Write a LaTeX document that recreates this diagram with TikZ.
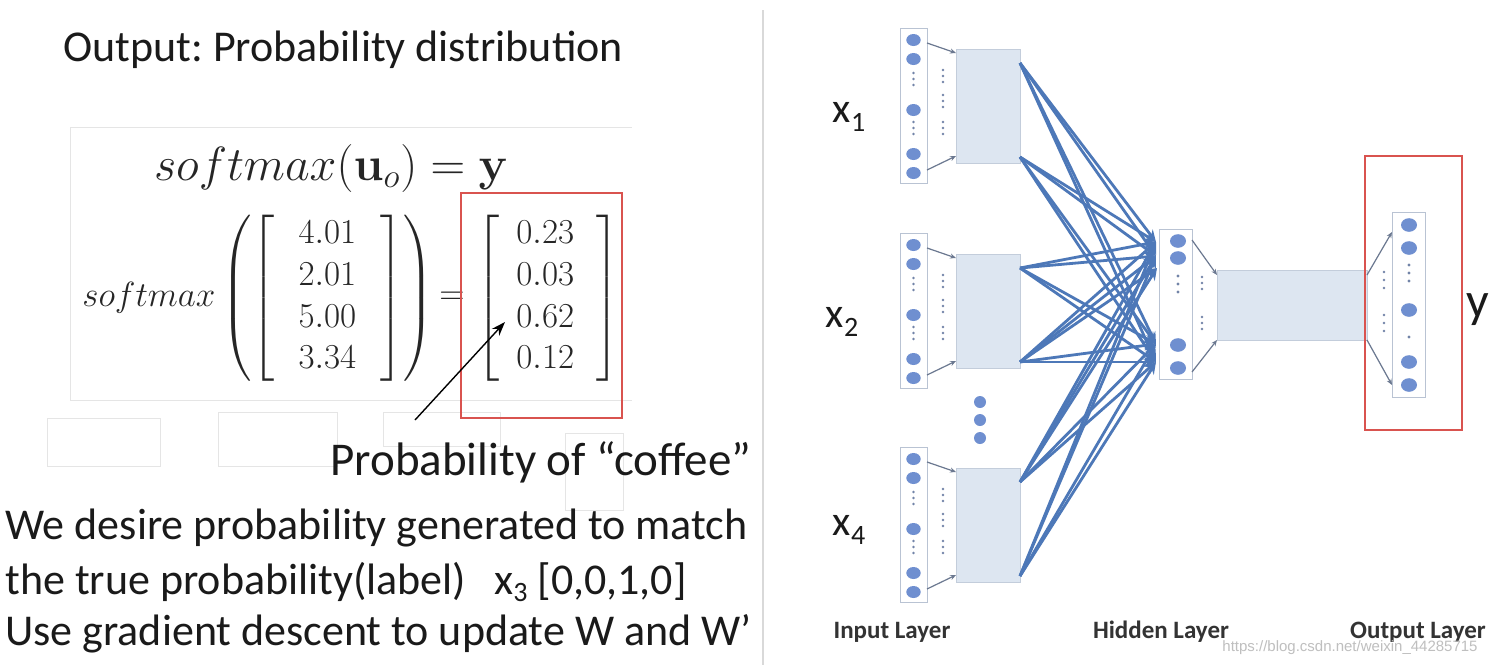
\RequirePackage{fix-cm}
\documentclass[tikz,border=0pt]{standalone}
\usepackage{amsmath}
\usepackage[no-math]{fontspec}
\newfontfamily\calfont{Carlito}
\newfontfamily\wmfont{Liberation Sans}
\usetikzlibrary{arrows.meta}
\frenchspacing
\definecolor{txt}{HTML}{1A1A1A}
\definecolor{mathc}{HTML}{262626}
\definecolor{redb}{HTML}{D9534F}
\definecolor{conncol}{HTML}{4D78B8}
\definecolor{neur}{HTML}{6F8FD0}
\definecolor{hfill}{HTML}{DDE6F1}
\definecolor{hdraw}{HTML}{C3CDDB}
\definecolor{ndraw}{HTML}{B9C3D3}
\definecolor{dotc}{HTML}{7284A8}
\definecolor{fanc}{HTML}{6B7890}
\tikzset{
  bigtext/.style={font=\calfont\fontsize{22}{26}\selectfont, text=txt, inner sep=0pt},
  narrow/.style={draw=ndraw, fill=white, line width=0.6pt, inner sep=0pt},
  hbox/.style={draw=hdraw, fill=hfill, line width=0.6pt, inner sep=0pt},
  neuron/.style={fill=neur},
  dotf/.style={fill=dotc},
  fan/.style={draw=fanc, line width=0.6pt, -{Stealth[length=3pt,width=2.5pt]}},
  link/.style={draw=conncol, line width=1.4pt, -{Stealth[length=6pt,width=5pt]}},
  redbox/.style={draw=redb, line width=1pt},
  faint/.style={draw=black!10, line width=0.5pt},
  layerlbl/.style={font=\calfont\bfseries\fontsize{12.5}{14}\selectfont, text=black!80, inner sep=0pt},
  xlbl/.style={font=\calfont\fontsize{21}{24}\selectfont, text=txt, inner sep=0pt}
}
\begin{document}
\begin{tikzpicture}[x=0.5pt,y=-0.5pt]
\useasboundingbox (0,0) rectangle (1500,665);
\fill[white] (0,0) rectangle (1500,665);
% ---------- left panel ----------
\node[bigtext, anchor=west] (title) at (63,50) {Output: Probability distribution};
\draw[faint] (70,400) -- (70,127) -- (632,127);
\draw[faint] (70,400) -- (632,400);
\draw[faint] (47,418) rectangle (160,466);
\draw[faint] (218,412) rectangle (337,466);
\draw[faint] (383,412) rectangle (500,446);
\draw[faint] (565,433) rectangle (623,510);
\node[text=mathc, inner sep=0pt, font=\fontsize{24}{28}\selectfont] (eq) at (331,168) {$softmax(\mathbf{u}_o)=\mathbf{y}$};
\node[text=mathc, inner sep=0pt, anchor=west, font=\fontsize{17.5}{20.8}\selectfont] (lhs) at (82,298)
 {$softmax\left(\left[\begin{array}{@{\hspace{12pt}}c@{\hspace{12pt}}}4.01\\2.01\\5.00\\3.34\end{array}\right]\right)$};
\node[text=mathc, inner sep=0pt, font=\fontsize{17.5}{20.8}\selectfont] (eqs) at (452,298) {$=$};
\node[text=mathc, inner sep=0pt, anchor=west, font=\fontsize{17.5}{20.8}\selectfont] (rhs) at (476,298)
 {$\left[\begin{array}{@{\hspace{8.5pt}}c@{\hspace{11pt}}}0.23\\0.03\\0.62\\0.12\end{array}\right]$};
\draw[redbox] (461,193) rectangle (622,418);
\coordinate (arrS) at (415,420);
\coordinate (arrE) at (505,322);
\draw[black, line width=0.7pt, -{Stealth[length=7pt,width=5pt]}] (arrS) -- (arrE);
\node[bigtext, anchor=west, font=\calfont\fontsize{23.5}{27}\selectfont] (coffee) at (330,462) {Probability of “coffee”};
\node[bigtext, anchor=west] (l1) at (5,528) {We desire probability generated to match};
\node[bigtext, anchor=west] (l2) at (5,582) {the true probability(label)\hspace{14pt}x\raisebox{-0.35ex}{\fontsize{14}{14}\selectfont 3} [0,0,1,0]};
\node[bigtext, anchor=west] (l3) at (5,634) {Use gradient descent to update W and W’};
% separator
\draw[black!15, line width=0.8pt] (763,10) -- (763,665);
% ---------- right panel ----------
\foreach \k/\o in {1/0,2/205,3/419}{
  \node[narrow, minimum width=13.5pt, minimum height=77.5pt, anchor=north west] (in\k) at (900,{28+\o}) {};
  \foreach \cy in {40,59,110,154,173} \fill[neuron] (913.5,{\cy+\o}) ellipse[x radius=3.6pt, y radius=3pt];
  \foreach \cy in {73,79,85,122,128,134} \fill[dotf] (913.5,{\cy+\o}) circle (0.7pt);
  \foreach \cy in {70,76,82,95,101,107,122,128,134} \fill[dotf] (943,{\cy+\o}) circle (0.7pt);
  \node[hbox, minimum width=32pt, minimum height=57pt, anchor=north west] (hb\k) at (956,{49+\o}) {};
  \coordinate (fa\k) at (927,{43+\o});
  \coordinate (ga\k) at (956,{53+\o});
  \coordinate (fb\k) at (927,{170+\o});
  \coordinate (gb\k) at (956,{156+\o});
  \draw[fan] (fa\k) -- (ga\k);
  \draw[fan] (fb\k) -- (gb\k);
  \coordinate (sa\k) at (1020,{63+\o});
  \coordinate (sb\k) at (1020,{157+\o});
}
\foreach \cy in {402,420,438} \fill[neuron] (980,\cy) circle (3pt);
\node[xlbl] (x1) at (849,117) {x\raisebox{-0.45ex}{\fontsize{14}{14}\selectfont 1}};
\node[xlbl] (x2) at (842,322) {x\raisebox{-0.45ex}{\fontsize{14}{14}\selectfont 2}};
\node[xlbl] (x4) at (849,530) {x\raisebox{-0.45ex}{\fontsize{14}{14}\selectfont 4}};
% hidden layer
\node[narrow, minimum width=16.5pt, minimum height=75pt, anchor=north west] (hid) at (1159,229) {};
\foreach \cy in {241,258,345,368} \fill[neuron] (1178,\cy) ellipse[x radius=4pt, y radius=3.4pt];
\foreach \cy in {276,284,292} \fill[dotf] (1178,\cy) circle (0.8pt);
\foreach \cy in {277,283,289,317,323,329} \fill[dotf] (1202,\cy) circle (0.7pt);
\node[hbox, minimum width=75pt, minimum height=35pt, anchor=north west] (proj) at (1217,270) {};
\coordinate (hfa) at (1192,240); \coordinate (hga) at (1217,275);
\coordinate (hfb) at (1192,372); \coordinate (hgb) at (1217,340);
\draw[fan] (hfa) -- (hga);
\draw[fan] (hfb) -- (hgb);
\coordinate (t1) at (1156,242);
\coordinate (t2) at (1156,256);
\coordinate (t3) at (1157,268);
\coordinate (t4) at (1156,344);
\coordinate (t5) at (1156,362);
\foreach \k in {1,2,3}{
  \foreach \t in {t1,t2,t4,t5}{
    \draw[link] (sa\k) -- (\t);
    \draw[link] (sb\k) -- (\t);
  }
}
\draw[link] (sb2) -- (t3);
\draw[link] (sa3) -- (t3);
% output layer
\node[narrow, minimum width=16.5pt, minimum height=92.5pt, anchor=north west] (outl) at (1392,212) {};
\foreach \cy in {225,248,310,362,385} \fill[neuron] (1409,\cy) ellipse[x radius=4pt, y radius=3.4pt];
\foreach \cy in {265,273,281,337} \fill[dotf] (1409,\cy) circle (0.8pt);
\foreach \cy in {272,280,288,315,323,331} \fill[dotf] (1384,\cy) circle (0.7pt);
\coordinate (ofa) at (1367,275); \coordinate (oga) at (1392,232);
\coordinate (ofb) at (1367,340); \coordinate (ogb) at (1392,385);
\draw[fan] (ofa) -- (oga);
\draw[fan] (ofb) -- (ogb);
\draw[redbox] (1365,156) rectangle (1462,430);
\node[font=\calfont\fontsize{25}{28}\selectfont, text=txt, inner sep=0pt] (ylab) at (1478,310) {y};
% layer labels
\node[layerlbl] (lin) at (892,632) {Input Layer};
\node[layerlbl] (lhid) at (1161,632) {Hidden Layer};
\node[layerlbl] (lout) at (1418,632) {Output Layer};
\node[font=\wmfont\fontsize{7.5}{9}\selectfont, text=black!25, inner sep=0pt, anchor=west] (wmk) at (1222,648) {https://blog.csdn.net/weixin\_44285715};
\end{tikzpicture}
\end{document}
